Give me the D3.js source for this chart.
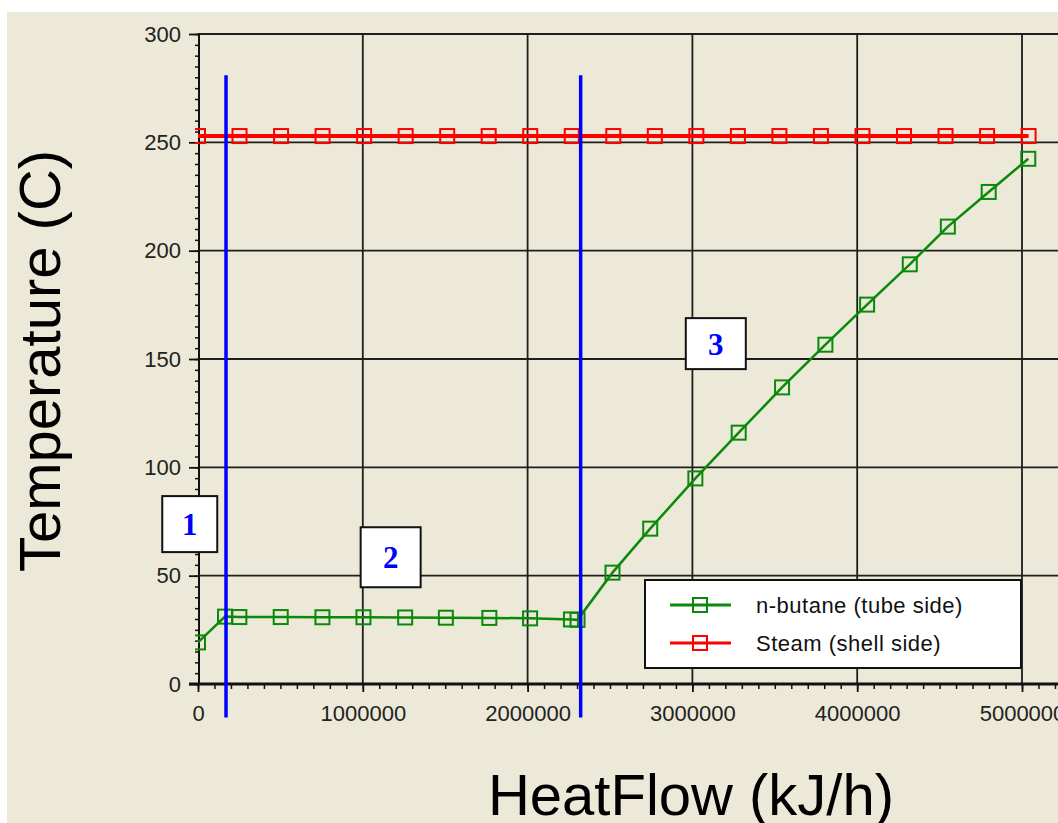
<!DOCTYPE html>
<html>
  <head>
    <style>
      body {
        margin: 0;
        background: #fff;
      }
      svg { display: block; }
      .tick text {
        font-family: "Liberation Sans", Arial, sans-serif;
        font-size: 22px;
        fill: #222;
      }
      .axis-title {
        font-family: "Liberation Sans", Arial, sans-serif;
        font-size: 58px;
        fill: #000;
      }
      .legend-text {
        font-family: "Liberation Sans", Arial, sans-serif;
        font-size: 22px;
        letter-spacing: 0.5px;
        fill: #111;
      }
      .box-label {
        font-family: "Liberation Serif", "Times New Roman", serif;
        font-weight: bold;
        font-size: 31px;
        fill: #0000ff;
      }
    </style>
  </head>
  <body>
    <script src="https://cdn.jsdelivr.net/npm/d3@7"></script>
    <script>
    // heat curve data (kJ/h, C)
    var butaneHeat = [0, 164000, 251000, 502000, 755000, 1004000, 1257000, 1504000, 1768000, 2015000, 2263000, 2303000,
                      2515000, 2744000, 3018000, 3281000, 3544000, 3807000, 4060000, 4319000, 4550000, 4798000, 5038000];
    var butaneTemp = [19.2, 31.1, 30.9, 30.9, 30.8, 30.8, 30.7, 30.6, 30.5, 30.3, 29.8, 29.6,
                      51.4, 71.7, 94.9, 116.0, 136.9, 156.6, 175.1, 193.7, 211.1, 227.1, 242.4];
    var steamHeat = [0, 252000, 504000, 756000, 1008000, 1260000, 1512000, 1764000, 2016000, 2268000, 2520000,
                     2772000, 3024000, 3276000, 3528000, 3780000, 4032000, 4284000, 4536000, 4788000, 5040000];
    var steamTemp = [252.9, 252.9, 252.9, 252.9, 252.9, 252.9, 252.9, 252.9, 252.9, 252.9, 252.9,
                     252.9, 252.9, 252.9, 252.9, 252.9, 252.9, 252.9, 252.9, 252.9, 252.9];
    var seriesNames = ["n-butane (tube side)", "Steam (shell side)"];
    var xTicks = [0, 1000000, 2000000, 3000000, 4000000, 5000000];
    var yTicks = [0, 50, 100, 150, 200, 250, 300];
    // zone dividers and zone labels (data units)
    var dividerHeat = [170000, 2322000];
    var dividerTemp = [281, -15.5];
    var zoneNames = ["1", "2", "3"];
    var zoneHeat = [-50000, 1169000, 3142000];
    var zoneTemp = [73.8, 58.5, 157.1];

    var W = 1058, H = 823;
    var green = "#0a8a0a", red = "#ff0000", blue = "#0000ff";

    var x = d3.scaleLinear().domain([0, 5250000]).range([198, 198 + 164.8 * 5.25]);
    var y = d3.scaleLinear().domain([0, 300]).range([684, 34]);

    var svg = d3.select("body").append("svg")
        .attr("width", W).attr("height", H);

    // beige panel with white strip on top/left
    svg.append("rect").attr("x", 7).attr("y", 12).attr("width", W).attr("height", H)
        .attr("fill", "#ece9d8");

    var defs = svg.append("defs");
    defs.append("clipPath").attr("id", "plot-clip")
      .append("rect").attr("x", 195).attr("y", 0).attr("width", W).attr("height", H);

    // grid
    var grid = svg.append("g").attr("stroke", "#1e1e1e").attr("stroke-width", 1.8);
    grid.selectAll(".vgrid").data(xTicks.slice(1))
      .enter().append("line")
        .attr("x1", d => x(d)).attr("x2", d => x(d))
        .attr("y1", y(300)).attr("y2", y(0));
    grid.selectAll(".hgrid").data(yTicks.slice(1))
      .enter().append("line")
        .attr("x1", x(0)).attr("x2", W)
        .attr("y1", d => y(d)).attr("y2", d => y(d));

    // minor ticks
    var yMinor = d3.range(0, 301, 5);
    var xMinor = d3.range(0, 5300000, 100000);
    svg.append("g").attr("transform", "translate(" + (x(0) + 1) + ",0)")
        .call(d3.axisLeft(y).tickValues(yMinor).tickSize(4).tickFormat(""))
        .call(g => g.select(".domain").remove())
        .selectAll("line").attr("stroke", "#111").attr("stroke-width", 1.5);
    svg.append("g").attr("transform", "translate(0," + y(0) + ")")
        .call(d3.axisBottom(x).tickValues(xMinor).tickSize(5).tickFormat(""))
        .call(g => g.select(".domain").remove())
        .selectAll("line").attr("stroke", "#111").attr("stroke-width", 1.5);

    // major axes
    svg.append("g").attr("transform", "translate(" + (x(0) + 1) + ",0)")
        .call(d3.axisLeft(y).tickValues(yTicks).tickSize(10).tickPadding(8))
        .call(g => g.select(".domain").remove())
        .call(g => g.selectAll("line").attr("stroke", "#111").attr("stroke-width", 1.8));
    svg.append("g").attr("transform", "translate(0," + y(0) + ")")
        .call(d3.axisBottom(x).tickValues(xTicks).tickSize(8).tickPadding(13).tickFormat(d3.format("d")))
        .call(g => g.select(".domain").remove())
        .call(g => g.selectAll("line").attr("stroke", "#111").attr("stroke-width", 1.8));

    svg.append("line").attr("x1", x(0) + 1).attr("x2", x(0) + 1)
        .attr("y1", y(300)).attr("y2", y(0))
        .attr("stroke", "#111").attr("stroke-width", 2);
    svg.append("line").attr("x1", 189).attr("x2", W)
        .attr("y1", y(0)).attr("y2", y(0))
        .attr("stroke", "#111").attr("stroke-width", 3);

    // series
    var line = d3.line().x(d => x(d[0])).y(d => y(d[1]));
    var series = [
      {name: seriesNames[0], color: green, width: 2.5, pts: d3.zip(butaneHeat, butaneTemp)},
      {name: seriesNames[1], color: red, width: 4, pts: d3.zip(steamHeat, steamTemp)}
    ];
    var plot = svg.append("g").attr("clip-path", "url(#plot-clip)");
    series.forEach(s => {
      plot.append("path").datum(s.pts)
          .attr("d", line)
          .attr("fill", "none")
          .attr("stroke", s.color)
          .attr("stroke-width", s.width);
      plot.selectAll(null).data(s.pts)
        .enter().append("rect")
          .attr("x", d => x(d[0]) - 7).attr("y", d => y(d[1]) - 7)
          .attr("width", 14).attr("height", 14)
          .attr("fill", "none")
          .attr("stroke", s.color)
          .attr("stroke-width", 2);
    });

    // zone dividers
    svg.selectAll(".divider").data(dividerHeat)
      .enter().append("line")
        .attr("x1", d => x(d)).attr("x2", d => x(d))
        .attr("y1", y(dividerTemp[0])).attr("y2", y(dividerTemp[1]))
        .attr("stroke", blue).attr("stroke-width", 3.5);

    // zone labels
    var boxSize = [[55, 56], [60, 60], [60, 51]];
    var zones = svg.selectAll(".zone").data(zoneNames)
      .enter().append("g")
        .attr("transform", (d, i) => "translate(" + [x(zoneHeat[i]), y(zoneTemp[i])] + ")");
    zones.append("rect")
        .attr("x", (d, i) => -boxSize[i][0] / 2).attr("y", (d, i) => -boxSize[i][1] / 2)
        .attr("width", (d, i) => boxSize[i][0]).attr("height", (d, i) => boxSize[i][1])
        .attr("fill", "#fff").attr("stroke", "#111").attr("stroke-width", 2);
    zones.append("text")
        .attr("class", "box-label")
        .attr("text-anchor", "middle")
        .attr("y", 11)
        .text(d => d);

    // legend
    var legend = svg.append("g").attr("transform", "translate(645,580)");
    legend.append("rect").attr("width", 376).attr("height", 88)
        .attr("fill", "#fff").attr("stroke", "#111").attr("stroke-width", 2);
    var items = legend.selectAll(".item").data(series)
      .enter().append("g")
        .attr("transform", (d, i) => "translate(0," + (25 + i * 38) + ")");
    items.append("line").attr("x1", 25).attr("x2", 86)
        .attr("stroke", d => d.color).attr("stroke-width", 3);
    items.append("rect").attr("x", 48).attr("y", -7).attr("width", 14).attr("height", 14)
        .attr("fill", "none").attr("stroke", d => d.color).attr("stroke-width", 2);
    items.append("text").attr("class", "legend-text")
        .attr("x", 111).attr("y", 8)
        .text(d => d.name);

    // axis titles
    svg.append("text").attr("class", "axis-title")
        .attr("text-anchor", "middle")
        .attr("transform", "translate(60,361) rotate(-90)")
        .text("Temperature (C)");
    svg.append("text").attr("class", "axis-title")
        .attr("text-anchor", "middle")
        .attr("x", 691).attr("y", 815)
        .text("HeatFlow (kJ/h)");
    </script>
  </body>
</html>
